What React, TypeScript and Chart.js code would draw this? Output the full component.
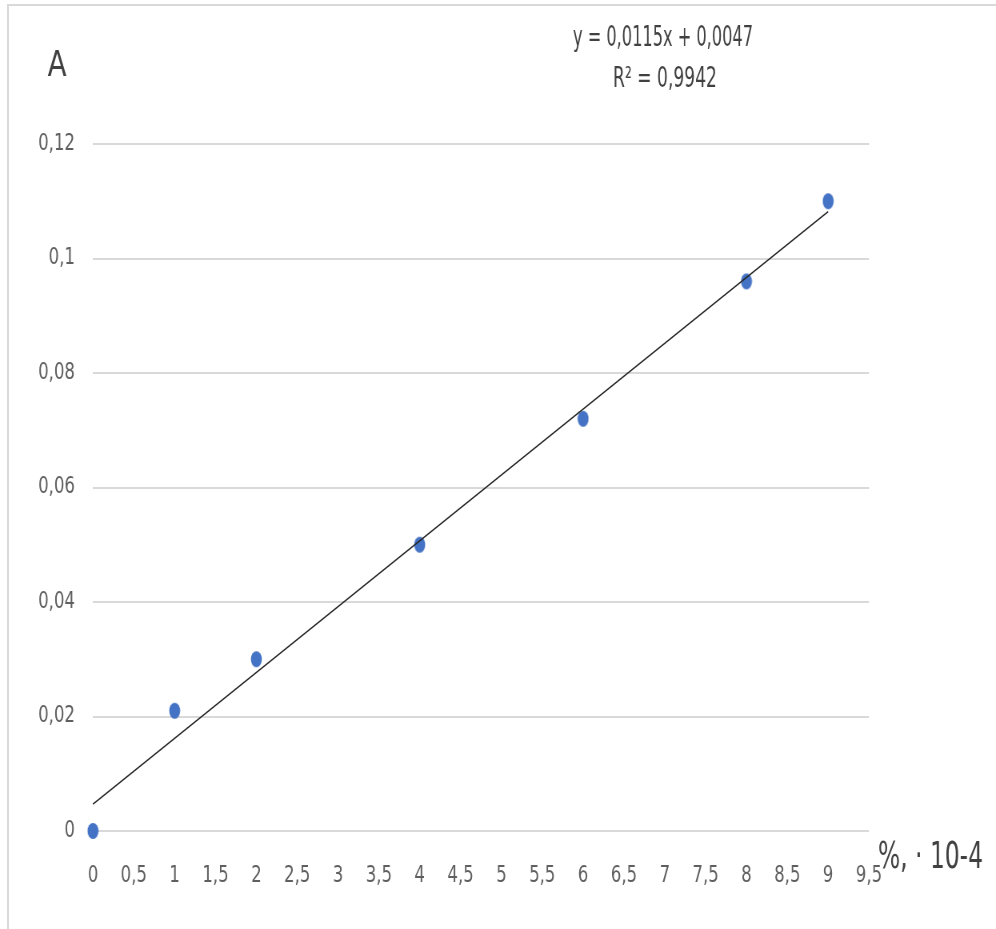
import React, { useEffect, useRef } from "react";
import { Chart, registerables } from "chart.js";

Chart.register(...registerables);

// ---- data ----
const concentrations = [0, 1, 2, 4, 6, 8, 9];
const absorbance = [0, 0.021, 0.03, 0.05, 0.072, 0.096, 0.11];
const trendX = [0, 9];
const trendY = [0.0047, 0.1082];
const xTickLabels = ["0", "0,5", "1", "1,5", "2", "2,5", "3", "3,5", "4", "4,5", "5", "5,5", "6", "6,5", "7", "7,5", "8", "8,5", "9", "9,5"];
const yTickLabels = ["0", "0,02", "0,04", "0,06", "0,08", "0,1", "0,12"];
const equationLines = ["y = 0,0115x + 0,0047", "R² = 0,9942"];
const yAxisLabel = "A";
const xAxisLabel = "%, · 10-4";

const FONT = "'DejaVu Sans Condensed', 'Liberation Sans Narrow', sans-serif";
const K = 1.25; // horizontal squeeze factor (canvas drawn wider, displayed narrower)
const W = 996;
const H = 929;

function drawFitted(
  ctx: CanvasRenderingContext2D,
  text: string,
  x: number,
  y: number,
  size: number,
  width: number,
  align: "left" | "center"
) {
  ctx.save();
  ctx.font = `${size}px ${FONT}`;
  const m = ctx.measureText(text).width;
  const sx = width / m;
  ctx.translate(x, y);
  ctx.scale(sx, 1);
  ctx.textAlign = align;
  ctx.textBaseline = "middle";
  ctx.fillText(text, 0, 0);
  ctx.restore();
}

const textPlugin = {
  id: "extraText",
  afterDraw(chart: any) {
    const ctx = chart.ctx as CanvasRenderingContext2D;
    ctx.save();
    ctx.scale(K, 1); // work in display coordinates
    ctx.fillStyle = "#404040";
    drawFitted(ctx, yAxisLabel, 57, 67, 36, 19, "center");
    drawFitted(ctx, equationLines[0], 663, 39, 28, 180, "center");
    drawFitted(ctx, equationLines[1], 665, 80, 28, 104, "center");
    drawFitted(ctx, xAxisLabel, 878, 858, 38, 105, "left");
    ctx.restore();
  },
};

export default function App() {
  const canvasRef = useRef<HTMLCanvasElement | null>(null);

  useEffect(() => {
    const canvas = canvasRef.current;
    if (!canvas) return;

    const dot = document.createElement("canvas");
    dot.width = Math.ceil(12 * K);
    dot.height = 18;
    const dctx = dot.getContext("2d")!;
    dctx.fillStyle = "#4472C4";
    dctx.beginPath();
    dctx.ellipse(dot.width / 2, 9, 5.5 * K, 8, 0, 0, Math.PI * 2);
    dctx.fill();

    const chart = new Chart(canvas, {
      type: "scatter",
      data: {
        datasets: [
          {
            label: "trend",
            data: trendX.map((x, i) => ({ x, y: trendY[i] })),
            showLine: true,
            borderColor: "#262626",
            borderWidth: 1.6,
            pointRadius: 0,
            pointHoverRadius: 0,
            clip: false,
          },
          {
            label: "A",
            data: concentrations.map((x, i) => ({ x, y: absorbance[i] })),
            pointStyle: dot as any,
            pointRadius: 6,
            backgroundColor: "#4472C4",
            borderColor: "#4472C4",
            clip: false,
          },
        ],
      },
      options: {
        animation: false,
        responsive: false,
        devicePixelRatio: 1,
        layout: { padding: { left: 0, top: 144, right: 127 * K, bottom: 38 } },
        plugins: { legend: { display: false }, tooltip: { enabled: false } },
        scales: {
          x: {
            type: "linear",
            min: 0,
            max: 9.5,
            afterFit: (s: any) => {
              s.height = 60;
            },
            ticks: {
              stepSize: 0.5,
              autoSkip: false,
              maxRotation: 0,
              minRotation: 0,
              padding: 31,
              color: "#5f5f5f",
              font: { size: 23, family: FONT },
              callback: (_v: any, i: number) => xTickLabels[i],
            },
            grid: { display: false, drawTicks: false },
            border: { display: false },
          },
          y: {
            min: 0,
            max: 0.12,
            afterFit: (s: any) => {
              s.width = 93 * K;
            },
            ticks: {
              stepSize: 0.02,
              padding: 18 * K,
              color: "#5f5f5f",
              font: { size: 23, family: FONT },
              callback: (_v: any, i: number) => yTickLabels[i],
            },
            grid: { color: "#d9d9d9", lineWidth: 2, drawTicks: false },
            border: { display: false },
          },
        },
      },
      plugins: [textPlugin],
    });

    return () => chart.destroy();
  }, []);

  return (
    <div
      style={{
        position: "fixed",
        left: 0,
        top: 0,
        width: W,
        height: H,
        overflow: "hidden",
        background: "#fff",
      }}
    >
      <div
        style={{
          position: "absolute",
          left: 0,
          top: 0,
          width: Math.round(W * K),
          height: H,
          transform: `scaleX(${1 / K})`,
          transformOrigin: "0 0",
        }}
      >
        <canvas ref={canvasRef} width={Math.round(W * K)} height={H} />
      </div>
      <div
        style={{
          position: "absolute",
          left: 7,
          top: 4,
          width: 2000,
          height: 2000,
          borderTop: "2px solid #d9d9d9",
          borderLeft: "2px solid #d9d9d9",
          pointerEvents: "none",
        }}
      />
    </div>
  );
}
